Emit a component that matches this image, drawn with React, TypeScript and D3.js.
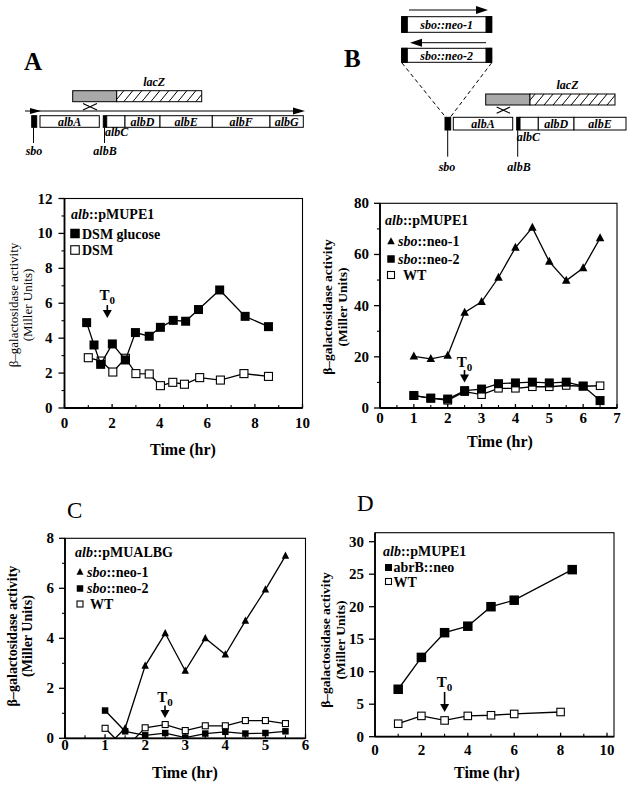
import React from 'react';
import * as d3 from 'd3';

const FONT = '"Liberation Serif","Times New Roman",Times,serif';

// ---------------- Panel A data ----------------
const aGlucoseTime = [0.93, 1.24, 1.52, 2.01, 2.56, 2.98, 3.56, 4.03, 4.57, 5.09, 5.63, 6.52, 7.59, 8.57];
const aGlucoseVal = [4.89, 3.61, 2.5, 3.67, 2.75, 4.32, 4.11, 4.62, 5.02, 4.97, 5.64, 6.76, 5.25, 4.66];
const aDsmTime = [1.0, 1.54, 2.03, 2.56, 3.0, 3.56, 4.03, 4.55, 5.04, 5.68, 6.55, 7.54, 8.57];
const aDsmVal = [2.88, 2.69, 2.06, 2.85, 1.97, 1.95, 1.28, 1.47, 1.36, 1.74, 1.6, 1.97, 1.81];
const aXTicks = [0, 2, 4, 6, 8, 10];
const aYTicks = [0, 2, 4, 6, 8, 10, 12];

// ---------------- Panel B data ----------------
const bTime = [1, 1.5, 2, 2.5, 3, 3.5, 4, 4.5, 5, 5.5, 6, 6.5];
const bNeo1 = [20.2, 19.2, 20.5, 37.3, 41.5, 51, 62.7, 70.5, 57.2, 49.8, 54.7, 66.4];
const bNeo2 = [4.9, 3.8, 3.5, 6.8, 7.4, 9.5, 9.8, 10.1, 9.8, 10.1, 8.6, 2.9];
const bWT = [4.8, 3.9, 3.0, 6.4, 5.2, 7.7, 7.7, 8.3, 8.3, 8.8, 8.5, 8.7];
const bXTicks = [0, 1, 2, 3, 4, 5, 6, 7];
const bYTicks = [0, 20, 40, 60, 80];

// ---------------- Panel C data ----------------
const cTime = [1, 1.5, 2, 2.5, 3, 3.5, 4, 4.5, 5, 5.5];
const cNeo1 = [-0.4, 0.4, 2.9, 4.2, 2.7, 4.0, 3.35, 4.7, 5.95, 7.3];
const cNeo2 = [1.11, 0.28, 0.12, 0.21, 0.03, 0.19, 0.26, 0.19, 0.21, 0.28];
const cWT = [0.4, -0.4, 0.42, 0.55, 0.31, 0.5, 0.5, 0.71, 0.71, 0.59];
const cXTicks = [0, 1, 2, 3, 4, 5, 6];
const cYTicks = [0, 2, 4, 6, 8];

// ---------------- Panel D data ----------------
const dAbrTime = [1, 2, 3, 4, 5, 6, 8.5];
const dAbrVal = [7.3, 12.2, 16, 17, 20, 21, 25.7];
const dWTTime = [1, 2, 3, 4, 5, 6, 8];
const dWTVal = [2, 3.2, 2.5, 3.2, 3.3, 3.5, 3.8];
const dXTicks = [0, 2, 4, 6, 8, 10];
const dYTicks = [0, 5, 10, 15, 20, 25, 30];

type Kind = 'fs' | 'os' | 'tri';
interface Series { xs: number[]; ys: number[]; kind: Kind; size: number }
interface LegItem { kind: Kind; size: number; it?: string; rest: string; mx: number; my: number; tx: number; ty: number }

interface Cfg {
  id: string;
  xr: [number, number]; yr: [number, number];
  xd: [number, number]; yd: [number, number];
  xt: number[]; xm: number[]; yt: number[]; ym: number[];
  xLabOff: number; yLabGap: number; tickFont: number;
  series: Series[];
  title: { it: string; rest: string; x: number; y: number };
  legend: LegItem[]; legFont: number;
  t0: { x: number; ty: number; top: number; bot: number };
  yl: { x1: number; x2: number; cy: number; size: number; weight: string };
  time: { x: number; y: number };
}

function Marker({ kind, x, y, s }: { kind: Kind; x: number; y: number; s: number }) {
  if (kind === 'tri') {
    const h = s * 0.95;
    return <path d={`M${x},${y - h * 0.6}L${x + s / 2},${y + h * 0.4}L${x - s / 2},${y + h * 0.4}Z`} fill="#000" />;
  }
  if (kind === 'fs') return <rect x={x - s / 2} y={y - s / 2} width={s} height={s} fill="#000" />;
  return <rect x={x - s / 2 + 0.5} y={y - s / 2 + 0.5} width={s - 1} height={s - 1} fill="#fff" stroke="#000" strokeWidth={1.1} />;
}

function Panel({ c }: { c: Cfg }) {
  const x = d3.scaleLinear().domain(c.xd).range(c.xr);
  const y = d3.scaleLinear().domain(c.yd).range(c.yr);
  const [x0, x1] = c.xr;
  const [yb, yt] = c.yr;
  const line = d3.line<[number, number]>().x(d => x(d[0])).y(d => y(d[1]));
  return (
    <g>
      <defs>
        <clipPath id={`clip-${c.id}`}>
          <rect x={x0} y={yt} width={x1 - x0} height={yb - yt} />
        </clipPath>
      </defs>
      <g clipPath={`url(#clip-${c.id})`}>
        {c.series.map((s, i) => (
          <g key={i}>
            <path d={line(s.xs.map((v, j) => [v, s.ys[j]] as [number, number])) || ''} fill="none" stroke="#000" strokeWidth={1.3} />
            {s.xs.map((v, j) => <Marker key={j} kind={s.kind} x={x(v)} y={y(s.ys[j])} s={s.size} />)}
          </g>
        ))}
      </g>
      <rect x={x0} y={yt} width={x1 - x0} height={yb - yt} fill="none" stroke="#000" strokeWidth={1.1} />
      <line x1={x0} x2={x0} y1={yt} y2={yb} stroke="#000" strokeWidth={1.8} />
      <line x1={x0} x2={x1} y1={yb} y2={yb} stroke="#000" strokeWidth={1.8} />
      {c.yt.map(v => (
        <g key={`yt${v}`}>
          <line x1={x0 - 6} x2={x0} y1={y(v)} y2={y(v)} stroke="#000" strokeWidth={1.3} />
          <text x={x0 - c.yLabGap} y={y(v) + 5} textAnchor="end" fontSize={c.tickFont} fontWeight="bold" fontFamily={FONT}>{v}</text>
        </g>
      ))}
      {c.ym.map(v => <line key={`ym${v}`} x1={x0 - 3} x2={x0} y1={y(v)} y2={y(v)} stroke="#000" strokeWidth={1.1} />)}
      {c.xt.map(v => (
        <g key={`xt${v}`}>
          <line x1={x(v)} x2={x(v)} y1={yb} y2={yb - 4} stroke="#000" strokeWidth={1.3} />
          <text x={x(v)} y={yb + c.xLabOff} textAnchor="middle" fontSize={c.tickFont} fontWeight="bold" fontFamily={FONT}>{v}</text>
        </g>
      ))}
      {c.xm.map(v => <line key={`xm${v}`} x1={x(v)} x2={x(v)} y1={yb} y2={yb - 3} stroke="#000" strokeWidth={1.1} />)}
      <text x={c.title.x} y={c.title.y} fontSize={c.legFont} fontWeight="bold" fontFamily={FONT}>
        <tspan fontStyle="italic">{c.title.it}</tspan>{c.title.rest}
      </text>
      {c.legend.map((l, i) => (
        <g key={`lg${i}`}>
          <Marker kind={l.kind} x={l.mx} y={l.my} s={l.size} />
          <text x={l.tx} y={l.ty} fontSize={c.legFont} fontWeight="bold" fontFamily={FONT}>
            {l.it ? <tspan fontStyle="italic">{l.it}</tspan> : null}{l.rest}
          </text>
        </g>
      ))}
      <text x={c.t0.x} y={c.t0.ty} textAnchor="middle" fontSize={15} fontWeight="bold" fontFamily={FONT}>
        T<tspan fontSize={11} dy={4}>0</tspan>
      </text>
      <line x1={c.t0.x} x2={c.t0.x} y1={c.t0.top} y2={c.t0.bot - 6} stroke="#000" strokeWidth={1.6} />
      <path d={`M${c.t0.x - 4.5},${c.t0.bot - 8}L${c.t0.x + 4.5},${c.t0.bot - 8}L${c.t0.x},${c.t0.bot}Z`} fill="#000" />
      <text transform={`translate(${c.yl.x1},${c.yl.cy}) rotate(-90)`} dy="0.35em" textAnchor="middle" fontSize={c.yl.size} fontWeight={c.yl.weight} fontFamily={FONT}>β–galactosidase activity</text>
      <text transform={`translate(${c.yl.x2},${c.yl.cy}) rotate(-90)`} dy="0.35em" textAnchor="middle" fontSize={c.yl.size} fontWeight={c.yl.weight} fontFamily={FONT}>(Miller Units)</text>
      <text x={c.time.x} y={c.time.y} textAnchor="middle" fontSize={16} fontWeight="bold" fontFamily={FONT}>Time (hr)</text>
    </g>
  );
}

const range = (a: number, b: number, s: number) => d3.range(a, b + 1e-9, s);

const panelA: Cfg = {
  id: 'a', xr: [64.5, 302.5], yr: [408, 198.5], xd: [0, 10], yd: [0, 12],
  xt: aXTicks, xm: range(1, 9, 2), yt: aYTicks, ym: range(1, 11, 2),
  xLabOff: 20, yLabGap: 12, tickFont: 15,
  series: [
    { xs: aDsmTime, ys: aDsmVal, kind: 'os', size: 9 },
    { xs: aGlucoseTime, ys: aGlucoseVal, kind: 'fs', size: 9 },
  ],
  title: { it: 'alb', rest: '::pMUPE1', x: 71, y: 219 },
  legend: [
    { kind: 'fs', size: 9.5, rest: 'DSM glucose', mx: 75, my: 233.5, tx: 82, ty: 238.5 },
    { kind: 'os', size: 9.5, rest: 'DSM', mx: 75, my: 250, tx: 82, ty: 255 },
  ], legFont: 14,
  t0: { x: 107.3, ty: 300, top: 305, bot: 318 },
  yl: { x1: 13, x2: 27, cy: 305, size: 13, weight: 'normal' },
  time: { x: 183, y: 455 },
};

const panelB: Cfg = {
  id: 'b', xr: [380, 617], yr: [408, 203.3], xd: [0, 7], yd: [0, 80],
  xt: bXTicks, xm: range(0.5, 6.5, 1), yt: bYTicks, ym: range(10, 70, 20),
  xLabOff: 14.5, yLabGap: 11, tickFont: 15,
  series: [
    { xs: bTime, ys: bNeo1, kind: 'tri', size: 8.5 },
    { xs: bTime, ys: bWT, kind: 'os', size: 8.5 },
    { xs: bTime, ys: bNeo2, kind: 'fs', size: 9 },
  ],
  title: { it: 'alb', rest: '::pMUPE1', x: 385, y: 225 },
  legend: [
    { kind: 'tri', size: 7.5, it: 'sbo', rest: '::neo-1', mx: 391, my: 241.5, tx: 398, ty: 246 },
    { kind: 'fs', size: 7.5, it: 'sbo', rest: '::neo-2', mx: 391, my: 259, tx: 398, ty: 263.5 },
    { kind: 'os', size: 8, rest: 'WT', mx: 391, my: 275, tx: 403, ty: 280 },
  ], legFont: 14,
  t0: { x: 464.5, ty: 367, top: 370, bot: 382.5 },
  yl: { x1: 327, x2: 342, cy: 307, size: 13.5, weight: 'bold' },
  time: { x: 500, y: 447 },
};

const panelC: Cfg = {
  id: 'c', xr: [65, 305.5], yr: [738.3, 538.3], xd: [0, 6], yd: [0, 8],
  xt: cXTicks, xm: range(0.5, 5.5, 1), yt: cYTicks, ym: range(1, 7, 2),
  xLabOff: 12, yLabGap: 11, tickFont: 15,
  series: [
    { xs: cTime, ys: cNeo1, kind: 'tri', size: 7.5 },
    { xs: cTime, ys: cWT, kind: 'os', size: 7 },
    { xs: cTime, ys: cNeo2, kind: 'fs', size: 6.5 },
  ],
  title: { it: 'alb', rest: '::pMUALBG', x: 75, y: 557 },
  legend: [
    { kind: 'tri', size: 7, it: 'sbo', rest: '::neo-1', mx: 80, my: 572, tx: 87, ty: 576.5 },
    { kind: 'fs', size: 6.5, it: 'sbo', rest: '::neo-2', mx: 80, my: 588.5, tx: 87, ty: 593 },
    { kind: 'os', size: 7, rest: 'WT', mx: 80, my: 604, tx: 90, ty: 609 },
  ], legFont: 14,
  t0: { x: 165, ty: 702, top: 705.5, bot: 718 },
  yl: { x1: 12.5, x2: 27, cy: 636, size: 14, weight: 'bold' },
  time: { x: 185, y: 778 },
};

const panelD: Cfg = {
  id: 'd', xr: [375, 607], yr: [736.7, 541.7], xd: [0, 10], yd: [0, 30],
  xt: dXTicks, xm: range(1, 9, 2), yt: dYTicks, ym: [],
  xLabOff: 18, yLabGap: 11, tickFont: 15,
  series: [
    { xs: dWTTime, ys: dWTVal, kind: 'os', size: 8.5 },
    { xs: dAbrTime, ys: dAbrVal, kind: 'fs', size: 9.5 },
  ],
  title: { it: 'alb', rest: '::pMUPE1', x: 383, y: 556 },
  legend: [
    { kind: 'fs', size: 7, rest: 'abrB::neo', mx: 388.5, my: 567.5, tx: 393.5, ty: 572 },
    { kind: 'os', size: 7, rest: 'WT', mx: 388.5, my: 581.5, tx: 393.5, ty: 586.5 },
  ], legFont: 14,
  t0: { x: 444.6, ty: 687, top: 692, bot: 712 },
  yl: { x1: 325, x2: 340, cy: 640, size: 13.5, weight: 'bold' },
  time: { x: 487, y: 778 },
};

function extendTop(c: Cfg, topPx: number, rightPx: number): Cfg {
  const y = d3.scaleLinear().domain(c.yd).range(c.yr);
  const x = d3.scaleLinear().domain(c.xd).range(c.xr);
  return { ...c, yd: [c.yd[0], y.invert(topPx)], yr: [c.yr[0], topPx], xd: [c.xd[0], x.invert(rightPx)], xr: [c.xr[0], rightPx] };
}
const panelD2 = extendTop(panelD, 532.7, 614);

function GeneBox({ x0, x1, y0, y1, label, black }: { x0: number; x1: number; y0: number; y1: number; label?: string; black?: boolean }) {
  return (
    <g>
      <rect x={x0} y={y0} width={x1 - x0} height={y1 - y0} fill={black ? '#000' : '#fff'} stroke="#000" strokeWidth={1} />
      {label ? <text x={(x0 + x1) / 2} y={(y0 + y1) / 2 + 4} textAnchor="middle" fontSize={12} fontWeight="bold" fontStyle="italic" fontFamily={FONT}>{label}</text> : null}
    </g>
  );
}

function LacZ({ x0, xm, x1, y0, y1 }: { x0: number; xm: number; x1: number; y0: number; y1: number }) {
  return (
    <g>
      <rect x={x0} y={y0} width={xm - x0} height={y1 - y0} fill="#a9a9a9" stroke="#000" strokeWidth={1} />
      <rect x={xm} y={y0} width={x1 - xm} height={y1 - y0} fill="url(#hatch)" stroke="#000" strokeWidth={1} />
      <text x={(xm + x1) / 2 - 5} y={y0 - 5} textAnchor="middle" fontSize={12} fontWeight="bold" fontStyle="italic" fontFamily={FONT}>lacZ</text>
    </g>
  );
}

function Cross({ x0, x1, y0, y1 }: { x0: number; x1: number; y0: number; y1: number }) {
  return (
    <g stroke="#000" strokeWidth={1.2}>
      <line x1={x0} y1={y0} x2={x1} y2={y1} />
      <line x1={x0} y1={y1} x2={x1} y2={y0} />
    </g>
  );
}

function Diagrams() {
  const lab = (t: string, x: number, y: number, anchor = 'middle') => (
    <text x={x} y={y} textAnchor={anchor} fontSize={12} fontWeight="bold" fontStyle="italic" fontFamily={FONT}>{t}</text>
  );
  return (
    <g>
      <defs>
        <pattern id="hatch" patternUnits="userSpaceOnUse" width={9} height={11}>
          <rect width={9} height={11} fill="#fff" />
          <line x1={0} y1={11} x2={9} y2={0} stroke="#000" strokeWidth={1} />
        </pattern>
      </defs>
      <text x={24} y={69.5} fontSize={25} fontWeight="bold" fontFamily={FONT}>A</text>
      <LacZ x0={72.7} xm={116.7} x1={201.7} y0={90.7} y1={101.7} />
      <Cross x0={83} x1={97} y0={103.5} y1={110} />
      <line x1={25} x2={298} y1={111} y2={111} stroke="#000" strokeWidth={1} />
      <path d="M30,108L41,111L30,114Z" fill="#000" />
      <path d="M293,107.5L305,111L293,114.5Z" fill="#000" />
      <GeneBox x0={31.7} x1={36.7} y0={115.7} y1={127.3} black />
      <GeneBox x0={40} x1={99.3} y0={115.7} y1={127.3} label="albA" />
      <GeneBox x0={103.3} x1={106.7} y0={115.7} y1={127.3} black />
      <GeneBox x0={106.7} x1={125} y0={115.7} y1={127.3} />
      <GeneBox x0={125} x1={160} y0={115.7} y1={127.3} label="albD" />
      <GeneBox x0={160} x1={212.3} y0={115.7} y1={127.3} label="albE" />
      <GeneBox x0={212.3} x1={270} y0={115.7} y1={127.3} label="albF" />
      <GeneBox x0={270} x1={303.3} y0={115.7} y1={127.3} label="albG" />
      <line x1={33.5} x2={33.5} y1={127.3} y2={143} stroke="#000" strokeWidth={1} />
      <line x1={104.5} x2={104.5} y1={127.3} y2={143} stroke="#000" strokeWidth={1} />
      {lab('sbo', 34, 155)}
      {lab('albB', 105, 155)}
      {lab('albC', 105, 136, 'start')}

      <text x={344} y={67} fontSize={25} fontWeight="bold" fontFamily={FONT}>B</text>
      <line x1={409} x2={478} y1={10} y2={10} stroke="#000" strokeWidth={1} />
      <path d="M476,6L488,10L476,14Z" fill="#000" />
      <GeneBox x0={401.7} x1={491.7} y0={16.7} y1={32.3} />
      <GeneBox x0={401.7} x1={407.3} y0={16.7} y1={32.3} black />
      <GeneBox x0={486} x1={491.7} y0={16.7} y1={32.3} black />
      {lab('sbo::neo-1', 446.7, 28.5)}
      <line x1={418} x2={486} y1={42.7} y2={42.7} stroke="#000" strokeWidth={1} />
      <path d="M422,38.7L410,42.7L422,46.7Z" fill="#000" />
      <GeneBox x0={401.7} x1={491.7} y0={48.3} y1={62.3} />
      <GeneBox x0={401.7} x1={407.3} y0={48.3} y1={62.3} black />
      <GeneBox x0={486} x1={491.7} y0={48.3} y1={62.3} black />
      {lab('sbo::neo-2', 446.7, 59.5)}
      <line x1={402} y1={63} x2={445.5} y2={117} stroke="#000" strokeWidth={1} strokeDasharray="4,3" />
      <line x1={491.5} y1={63} x2={450.5} y2={117} stroke="#000" strokeWidth={1} strokeDasharray="4,3" />
      <LacZ x0={485.7} xm={530} x1={615} y0={94} y1={105} />
      <Cross x0={496.7} x1={510} y0={107} y1={113.3} />
      <GeneBox x0={445} x1={450.7} y0={117.3} y1={130} black />
      <GeneBox x0={453.3} x1={512.7} y0={117.3} y1={130} label="albA" />
      <GeneBox x0={516.7} x1={520} y0={117.3} y1={130} black />
      <GeneBox x0={520} x1={538.3} y0={117.3} y1={130} />
      <GeneBox x0={538.3} x1={574} y0={117.3} y1={130} label="albD" />
      <GeneBox x0={574} x1={626} y0={117.3} y1={130} label="albE" />
      <line x1={447.7} x2={447.7} y1={130} y2={156.7} stroke="#000" strokeWidth={1} />
      <line x1={517.7} x2={517.7} y1={130} y2={156.7} stroke="#000" strokeWidth={1} />
      {lab('sbo', 447, 171)}
      {lab('albB', 519, 171)}
      {lab('albC', 516.7, 141, 'start')}

      <text x={67} y={517.5} fontSize={23} fontFamily={FONT}>C</text>
      <text x={357} y={511} fontSize={23} fontFamily={FONT}>D</text>
    </g>
  );
}

export default function App() {
  return (
    <svg width={636} height={789} viewBox="0 0 636 789" style={{ position: 'absolute', left: 0, top: 0, background: '#fff' }}>
      <rect width={636} height={789} fill="#fff" />
      <Diagrams />
      <Panel c={panelA} />
      <Panel c={panelB} />
      <Panel c={panelC} />
      <Panel c={panelD2} />
    </svg>
  );
}
